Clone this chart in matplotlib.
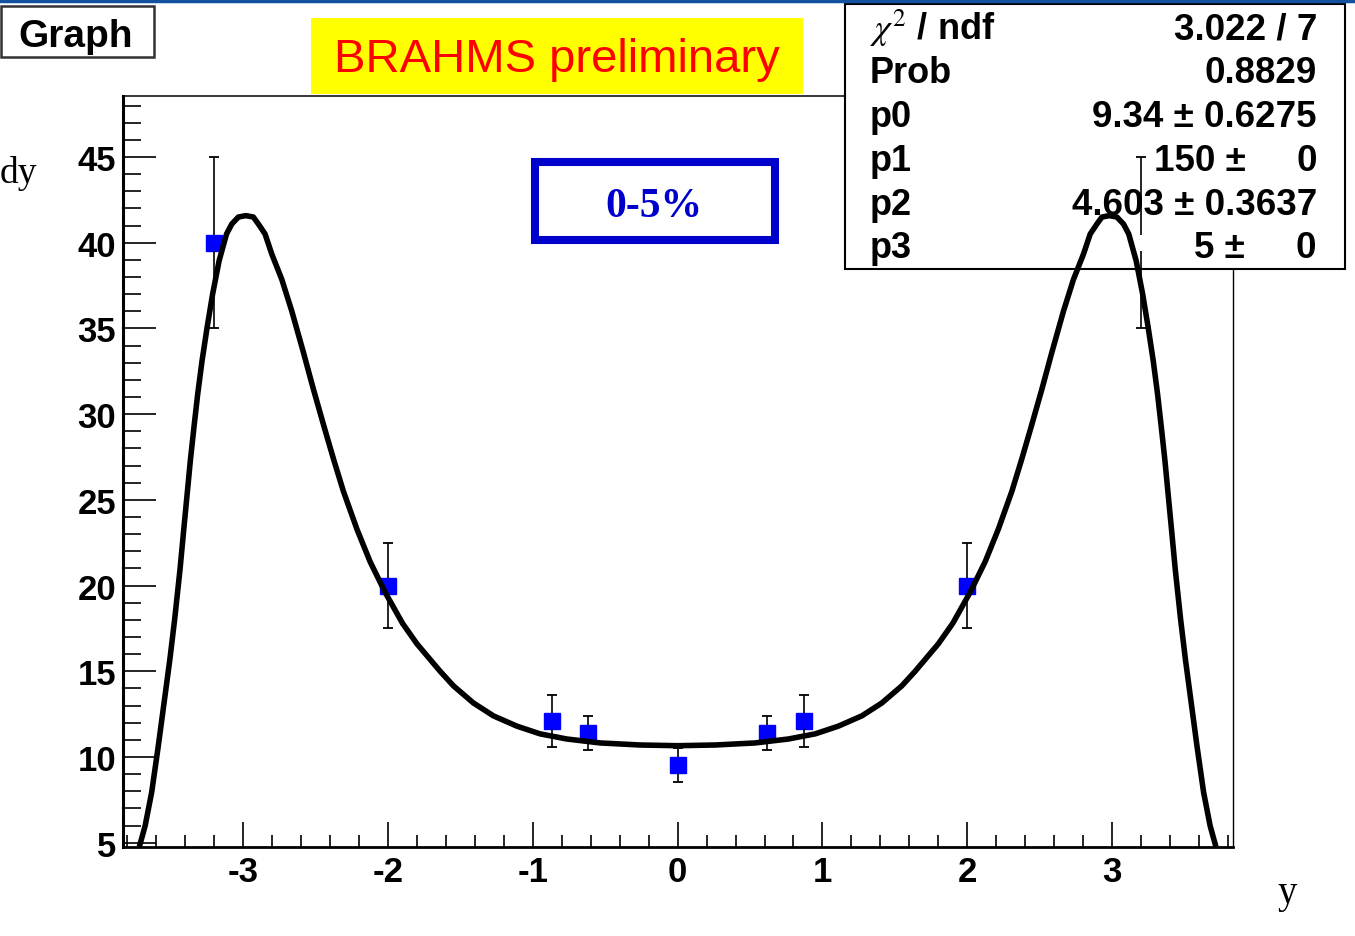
import matplotlib
matplotlib.use("Agg")
import matplotlib.pyplot as plt
from matplotlib.patches import Rectangle
from matplotlib.lines import Line2D
from matplotlib.ticker import MultipleLocator

plt.rcParams['axes.unicode_minus'] = False
plt.rcParams['mathtext.fontset'] = 'stix'

# -------------------------
# data: dN/dy points and fitted curve
# -------------------------

rapidity = [-3.2, -2.0, -0.87, -0.62, 0.0, 0.62, 0.87, 2.0, 3.2]
dndy = [40.0, 20.0, 12.1, 11.4, 9.55, 11.4, 12.1, 20.0, 40.0]
dndy_err = [5.0, 2.5, 1.5, 1.0, 1.0, 1.0, 1.5, 2.5, 5.0]

fit_y = [-3.712, -3.677, -3.632, -3.586, -3.546, -3.506, -3.473, -3.436, -3.408,
         -3.387, -3.365, -3.340, -3.314, -3.284, -3.249, -3.211, -3.166, -3.115,
         -3.079, -3.033, -2.981, -2.930, -2.895, -2.849, -2.803, -2.733, -2.664,
         -2.584, -2.515, -2.446, -2.377, -2.308, -2.215, -2.124, -2.020, -1.900,
         -1.800, -1.700, -1.640, -1.548, -1.410, -1.272, -1.110, -0.950, -0.765,
         -0.535, -0.259, 0.000,
         0.259, 0.535, 0.765, 0.950, 1.110, 1.272, 1.410, 1.548, 1.640,
         1.700, 1.800, 1.900, 2.020, 2.124, 2.215, 2.308, 2.377, 2.446,
         2.515, 2.584, 2.664, 2.733, 2.803, 2.849, 2.895, 2.930, 2.981,
         3.033, 3.079, 3.115, 3.166, 3.211, 3.249, 3.284, 3.314, 3.340,
         3.365, 3.387, 3.408, 3.436, 3.473, 3.506, 3.546, 3.586, 3.632,
         3.677, 3.712]
fit_val = [4.92, 5.99, 7.94, 10.66, 13.19, 15.72, 18.05, 20.97, 23.49,
           25.34, 27.29, 29.24, 31.18, 33.12, 35.07, 37.01, 38.96, 40.51,
           41.09, 41.50, 41.58, 41.50, 41.09, 40.51, 39.35, 37.85, 36.00,
           33.60, 31.45, 29.40, 27.40, 25.50, 23.30, 21.40, 19.61, 17.80,
           16.60, 15.60, 15.00, 14.15, 13.15, 12.40, 11.80, 11.35, 11.05,
           10.82, 10.70, 10.66,
           10.70, 10.82, 11.05, 11.35, 11.80, 12.40, 13.15, 14.15, 15.00,
           15.60, 16.60, 17.80, 19.61, 21.40, 23.30, 25.50, 27.40, 29.40,
           31.45, 33.60, 36.00, 37.85, 39.35, 40.51, 41.09, 41.50, 41.58,
           41.50, 41.09, 40.51, 38.96, 37.01, 35.07, 33.12, 31.18, 29.24,
           27.29, 25.34, 23.49, 20.97, 18.05, 15.72, 13.19, 10.66, 7.94,
           5.99, 4.92]

stat_labels = [r"$\chi^{2}$ / ndf", "Prob", "p0", "p1", "p2", "p3"]
stat_values = ["3.022 / 7", "0.8829", "9.34 \u00b1 0.6275", "150 \u00b1     0",
               "4.603 \u00b1 0.3637", "5 \u00b1     0"]

# -------------------------
# figure layout (pixel helpers)
# -------------------------

W, H = 1355, 937
fig = plt.figure(figsize=(W / 100, H / 100), dpi=100)


def fx(px):
    return px / W


def fy(py):
    return 1 - py / H


ax = fig.add_axes([fx(123), fy(848), fx(1233) - fx(123), fy(97) - fy(848)])
ax.set_xlim(-3.83, 3.835)
ax.set_ylim(4.75, 48.56)

sans = "Liberation Sans"
serif = "Liberation Serif"

# -------------------------
# points, error bars, fit
# -------------------------

gap = 0.47  # error bars stop at the marker edge
for x, v, e in zip(rapidity, dndy, dndy_err):
    ax.vlines(x, v + gap, v + e, color="black", lw=1.2, zorder=4)
    ax.vlines(x, v - e, v - gap, color="black", lw=1.2, zorder=4)
ax.plot(rapidity, [v + e for v, e in zip(dndy, dndy_err)], ls="none",
        marker="_", ms=7.5, mew=1.3, color="black", zorder=4)
ax.plot(rapidity, [v - e for v, e in zip(dndy, dndy_err)], ls="none",
        marker="_", ms=7.5, mew=1.3, color="black", zorder=4)
ax.plot(rapidity, dndy, ls="none", marker="s", ms=11, color="#0000ff",
        mec="#0000ff", zorder=2.2)

ax.plot(fit_y, fit_val, color="black", lw=4, zorder=4.5,
        solid_joinstyle="round")

# -------------------------
# axes styling
# -------------------------

ax.xaxis.set_major_locator(MultipleLocator(1))
ax.xaxis.set_minor_locator(MultipleLocator(0.2))
ax.yaxis.set_major_locator(MultipleLocator(5))
ax.yaxis.set_minor_locator(MultipleLocator(1))
ax.tick_params(axis="x", which="major", direction="in", length=18, width=1.2,
               pad=6, top=False)
ax.tick_params(axis="x", which="minor", direction="in", length=9, width=1.2,
               top=False)
ax.tick_params(axis="y", which="major", direction="in", length=24, width=1.2,
               pad=5, right=False)
ax.tick_params(axis="y", which="minor", direction="in", length=13, width=1.2,
               right=False)
for lab in ax.get_xticklabels() + ax.get_yticklabels():
    lab.set_fontfamily(sans)
    lab.set_fontweight("bold")
    lab.set_fontsize(25)

ax.spines["left"].set_linewidth(2.2)
ax.spines["bottom"].set_linewidth(2.0)
ax.spines["top"].set_linewidth(1.1)
ax.spines["right"].set_linewidth(1.0)

# stats box sits over the frame but under the fit line
box = Rectangle((fx(845), fy(270)), fx(1345) - fx(845), fy(5) - fy(270),
                transform=fig.transFigure, facecolor="white", edgecolor="black",
                lw=1.5, zorder=3, clip_on=False)
ax.add_patch(box)
row_base = [40, 83, 127, 171, 215, 258]
for lab, val, yb in zip(stat_labels, stat_values, row_base):
    ax.text(fx(870), fy(yb), lab, transform=fig.transFigure, ha="left",
            va="baseline", fontsize=26, fontweight="bold", family=sans,
            zorder=3.2)
    ax.text(fx(1317), fy(yb), val, transform=fig.transFigure, ha="right",
            va="baseline", fontsize=26.5, fontweight="bold", family=sans,
            zorder=3.2)

# -------------------------
# labels and decorations
# -------------------------

fig.add_artist(Line2D([0, 1], [fy(1.5), fy(1.5)], color="#1450a0", lw=2.5))

fig.patches.append(Rectangle((fx(1), fy(58)), fx(154) - fx(1), fy(7) - fy(58),
                             transform=fig.transFigure, facecolor="white",
                             edgecolor="#333333", lw=1.8))
fig.text(fx(76), fy(47), "Graph", ha="center", va="baseline", fontsize=28,
         fontweight="bold", family=sans)

fig.patches.append(Rectangle((fx(311), fy(95)), fx(803) - fx(311), fy(19) - fy(95),
                             transform=fig.transFigure, facecolor="#ffff00",
                             edgecolor="none"))
fig.text(fx(557), fy(60), "BRAHMS preliminary", ha="center", va="center",
         fontsize=34, color="#ff0000", family=sans)

fig.patches.append(Rectangle((fx(535), fy(241)), fx(774.5) - fx(535), fy(163) - fy(241),
                             transform=fig.transFigure, facecolor="white",
                             edgecolor="#0000cc", lw=5.8))
fig.text(fx(654), fy(217), "0-5%", ha="center", va="baseline", fontsize=30,
         fontweight="bold", color="#0000cc", family=serif)

fig.text(fx(0), fy(183), "dy", ha="left", va="baseline", fontsize=27,
         family=serif)
fig.text(fx(1287), fy(903), "y", ha="center", va="baseline", fontsize=28,
         family=serif)

fig.savefig("out.png", dpi=100)
